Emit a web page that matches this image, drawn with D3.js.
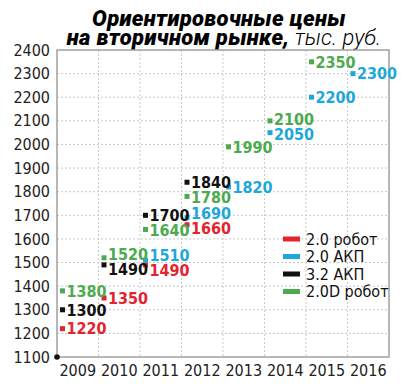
<!DOCTYPE html>
<html>
<head>
<meta charset="utf-8">
<script src="https://cdn.jsdelivr.net/npm/d3@7"></script>
<style>
  body { margin: 0; background: #fff; }
  svg { display: block; }
</style>
</head>
<body>
<div id="chart"></div>
<script>
// data
const years = ["2009", "2010", "2011", "2012", "2013", "2014", "2015", "2016"];
const robot20 = [1220, 1350, 1490, 1660, null, null, null, null];
const akp20 = [null, null, 1510, 1690, 1820, 2050, 2200, 2300];
const akp32 = [1300, 1490, 1700, 1840, null, null, null, null];
const robot20d = [1380, 1520, 1640, 1780, 1990, 2100, 2350, null];
const seriesNames = ["2.0 робот", "2.0 АКП", "3.2 АКП", "2.0D робот"];
const seriesColors = ["#e3242f", "#1ea8da", "#111111", "#4caa4f"];
const yTicks = [1100, 1200, 1300, 1400, 1500, 1600, 1700, 1800, 1900, 2000, 2100, 2200, 2300, 2400];

const seriesValues = [robot20, akp20, akp32, robot20d];

const W = 418, H = 389;
const m = {left: 57, right: 29, top: 50, bottom: 32};
const font = "'Liberation Sans Narrow', 'DejaVu Sans Condensed', 'Roboto Condensed', sans-serif";

const svg = d3.select("#chart").append("svg").attr("width", W).attr("height", H);

const x = d3.scaleBand().domain(years).range([m.left, W - m.right]);
const y = d3.scaleLinear().domain([1100, 2400]).range([H - m.bottom, m.top]);

// title
const title = svg.append("text").attr("text-anchor", "middle")
  .style("font-family", "Roboto, 'Open Sans', sans-serif").style("font-style", "italic");
title.append("tspan").attr("x", 219).attr("y", 26)
  .style("font-size", "22px").style("font-weight", 900).style("letter-spacing", "0.3px")
  .text("Ориентировочные цены");
const t2 = title.append("tspan").attr("x", 224).attr("y", 45).style("font-size", "22px");
t2.append("tspan").style("font-weight", 900).style("letter-spacing", "0.3px").text("на вторичном рынке,");
t2.append("tspan").style("font-weight", 300).text(" тыс. руб.");

// grid
const grid = svg.append("g").attr("stroke", "#c8c8c8").attr("stroke-dasharray", "2,2").attr("stroke-width", 1);
grid.selectAll(".h").data(yTicks.slice(1, -1)).join("line")
  .attr("x1", m.left).attr("x2", W - m.right)
  .attr("y1", d => y(d)).attr("y2", d => y(d));
grid.selectAll(".v").data(years.slice(1)).join("line")
  .attr("x1", d => x(d)).attr("x2", d => x(d))
  .attr("y1", m.top).attr("y2", H - m.bottom);

// frame
svg.append("rect").attr("x", m.left).attr("y", m.top)
  .attr("width", W - m.left - m.right).attr("height", H - m.top - m.bottom)
  .attr("fill", "none").attr("stroke", "#a0a0a0").attr("stroke-width", 1.5);

// axes
const yAxis = svg.append("g").attr("transform", `translate(${m.left},0)`)
  .call(d3.axisLeft(y).tickValues(yTicks).tickFormat(d3.format("d")).tickSize(0).tickPadding(7));
const xAxis = svg.append("g").attr("transform", `translate(0,${H - m.bottom})`)
  .call(d3.axisBottom(x).tickSize(0).tickPadding(5));
[yAxis, xAxis].forEach(a => {
  a.select(".domain").remove();
  a.selectAll("text").style("font-family", font).style("font-size", "16px").attr("fill", "#222");
});
xAxis.selectAll("text").attr("dy", "0.85em");

svg.append("circle").attr("cx", m.left).attr("cy", y(1100)).attr("r", 2.8).attr("fill", "#111");

// points
const pts = [];
seriesValues.forEach((vals, s) => {
  vals.forEach((v, i) => {
    if (v != null) pts.push({s, year: years[i], v, y: y(v), ly: y(v)});
  });
});

// push labels apart within each year
const gap = 15;
d3.group(pts, d => d.year).forEach(list => {
  list.sort((a, b) => a.y - b.y);
  for (let k = 0; k < 30; k++) {
    for (let i = 0; i < list.length - 1; i++) {
      const diff = list[i + 1].ly - list[i].ly;
      if (diff < gap) {
        const d = (gap - diff) / 2;
        list[i].ly -= d;
        list[i + 1].ly += d;
      }
    }
  }
});

const g = svg.append("g");
g.selectAll("rect").data(pts).join("rect")
  .attr("x", d => x(d.year) + 3).attr("y", d => d.y - 2.5)
  .attr("width", 5).attr("height", 5)
  .attr("fill", d => seriesColors[d.s]);
g.selectAll("text").data(pts).join("text")
  .attr("x", d => x(d.year) + 9.5).attr("y", d => d.ly)
  .attr("dy", "0.36em")
  .style("font-family", font).style("font-size", "16px").style("font-weight", "bold")
  .attr("fill", d => seriesColors[d.s])
  .text(d => d.v);

// legend
const leg = svg.append("g").attr("transform", "translate(283,239)");
const row = leg.selectAll("g").data(seriesNames).join("g")
  .attr("transform", (d, i) => `translate(0,${i * 17.5})`);
row.append("rect").attr("x", 0).attr("y", -2.5).attr("width", 17).attr("height", 5)
  .attr("fill", (d, i) => seriesColors[i]);
row.append("text").attr("x", 23).attr("dy", "0.36em")
  .style("font-family", font).style("font-size", "16px").attr("fill", "#111")
  .text(d => d);
</script>
</body>
</html>
